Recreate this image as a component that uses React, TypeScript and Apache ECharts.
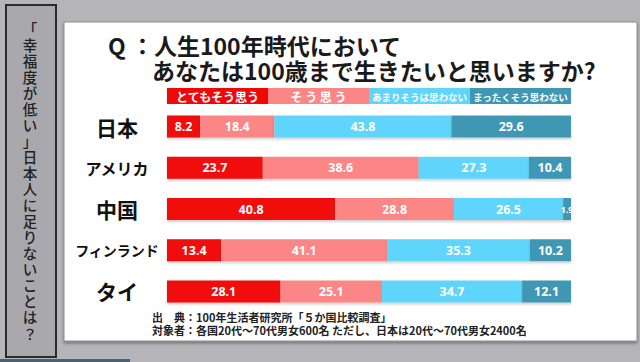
import React, { useEffect, useRef } from "react";
import * as echarts from "echarts";

const categories = ["日本", "アメリカ", "中国", "フィンランド", "タイ"];
const veryMuch = [8.2, 23.7, 40.8, 13.4, 28.1];
const somewhat = [18.4, 38.6, 28.8, 41.1, 25.1];
const notReally = [43.8, 27.3, 26.5, 35.3, 34.7];
const notAtAll = [29.6, 10.4, 1.9, 10.2, 12.1];
const legendNames = ["とてもそう思う", "そ う 思 う", "あまりそうは思わない", "まったくそう思わない"];
const seriesValues = [veryMuch, somewhat, notReally, notAtAll];
const colors = ["#f20707", "#fc8585", "#5fd5fb", "#3f97b4"];
const titleLine1 = "Q ：人生100年時代において";
const titleLine2 = "あなたは100歳まで生きたいと思いますか?";
const sideText = "「幸福度が低い」日本人に足りないことは？";
const source1 = "出　典：100年生活者研究所「５か国比較調査」";
const source2 = "対象者：各国20代～70代男女600名 ただし、日本は20代～70代男女2400名";

const FONT = "'Noto Sans CJK JP', 'Noto Sans', sans-serif";
const GRID_LEFT = 167;
const GRID_RIGHT = 69;

export default function App() {
  const ref = useRef<HTMLDivElement>(null);
  useEffect(() => {
    if (!ref.current) return;
    const chart = echarts.init(ref.current, null, { renderer: "svg" });
    const totals = categories.map((_, i) =>
      seriesValues.reduce((s, arr) => s + arr[i], 0)
    );
    const gridWidth = 640 - GRID_LEFT - GRID_RIGHT;
    const cell = gridWidth / legendNames.length;

    const legendGraphics: any[] = [];
    legendNames.forEach((name, i) => {
      legendGraphics.push({
        type: "rect",
        z: 5,
        shape: { x: GRID_LEFT + i * cell, y: 88, width: cell, height: 16 },
        style: { fill: colors[i] },
      });
      legendGraphics.push({
        type: "text",
        z: 6,
        x: GRID_LEFT + i * cell + cell / 2,
        y: 96.5,
        style: {
          text: name,
          fill: "#ffffff",
          font: `bold ${i < 2 ? 12 : 9.5}px ${FONT}`,
          textAlign: "center",
          textVerticalAlign: "middle",
        },
      });
    });

    const sideChars = sideText.split("");
    const sideStep = (333 - 28) / (sideChars.length - 1);
    const sideGraphics = sideChars.map((ch, i) => ({
      type: "text",
      z: 5,
      x: 30,
      y: 28 + i * sideStep,
      style: {
        text: ch,
        fill: "#222",
        font: `500 14.5px ${FONT}`,
        lineHeight: 14.5,
        textAlign: "center",
        textVerticalAlign: "middle",
      },
    }));

    const sizeKey = (s: string) =>
      s.length <= 2 ? "big" : s.length <= 4 ? "mid" : "small";

    const option: any = {
      animation: false,
      backgroundColor: "#b5b5b9",
      grid: { left: GRID_LEFT, right: GRID_RIGHT, top: 106, bottom: 50 },
      xAxis: { type: "value", min: 0, max: 100, show: false },
      yAxis: {
        type: "category",
        data: categories,
        inverse: true,
        axisLine: { show: false },
        axisTick: { show: false },
        splitLine: { show: false },
        axisLabel: {
          margin: 50,
          align: "center",
          color: "#111",
          formatter: (v: string) => `{${sizeKey(v)}|${v}}`,
          rich: {
            big: { fontSize: 21, fontWeight: "bold", fontFamily: FONT, color: "#111" },
            mid: { fontSize: 16, fontWeight: "bold", fontFamily: FONT, color: "#111" },
            small: { fontSize: 14, fontWeight: "bold", fontFamily: FONT, color: "#111" },
          },
        },
      },
      series: seriesValues.map((arr, si) => ({
        type: "bar",
        name: legendNames[si],
        stack: "total",
        barWidth: 22,
        z: 3,
        itemStyle: {
          color: colors[si],
          shadowColor: "rgba(0,0,0,0.18)",
          shadowOffsetY: 2,
          shadowBlur: 2,
        },
        label: {
          show: true,
          position: "inside",
          color: "#ffffff",
          fontWeight: "bold",
          fontFamily: "'Noto Sans', sans-serif",
          fontSize: 12.5,
          formatter: (p: any) => arr[p.dataIndex].toFixed(1),
        },
        data: arr.map((v, i) => {
          const item: any = { value: (v / totals[i]) * 100 };
          if (v < 5) item.label = { fontSize: 9 };
          return item;
        }),
      })),
      graphic: [
        {
          type: "rect",
          z: 0,
          shape: { x: 0, y: 359, width: 130, height: 3 },
          style: { fill: "#46637a" },
        },
        {
          type: "rect",
          z: 0,
          shape: { x: 64, y: 22, width: 573, height: 319 },
          style: {
            fill: "#ffffff",
            stroke: "#8a8a8e",
            lineWidth: 1,
            shadowColor: "rgba(0,0,0,0.35)",
            shadowOffsetY: 2,
            shadowBlur: 3,
          },
        },
        {
          type: "rect",
          z: 0,
          shape: { x: 6, y: 5, width: 50, height: 352 },
          style: { fill: "#a9a9ad", stroke: "#2b2b2b", lineWidth: 2 },
        },
        ...sideGraphics,
        {
          type: "text",
          z: 5,
          x: 108,
          y: 45,
          style: {
            text: titleLine1,
            fill: "#1a1a1a",
            font: `bold 23px ${FONT}`,
            textAlign: "left",
            textVerticalAlign: "middle",
          },
        },
        {
          type: "text",
          z: 5,
          x: 152,
          y: 70,
          style: {
            text: titleLine2,
            fill: "#1a1a1a",
            font: `bold 23px ${FONT}`,
            textAlign: "left",
            textVerticalAlign: "middle",
          },
        },
        {
          type: "text",
          z: 5,
          x: 152,
          y: 317,
          style: {
            text: source1,
            fill: "#222",
            font: `bold 11px ${FONT}`,
            textAlign: "left",
            textVerticalAlign: "middle",
          },
        },
        {
          type: "text",
          z: 5,
          x: 152,
          y: 329.5,
          style: {
            text: source2,
            fill: "#222",
            font: `bold 11px ${FONT}`,
            textAlign: "left",
            textVerticalAlign: "middle",
          },
        },
        ...legendGraphics,
      ],
    };
    chart.setOption(option);
    return () => chart.dispose();
  }, []);
  return (
    <div
      ref={ref}
      style={{ position: "fixed", left: 0, top: 0, width: 640, height: 362 }}
    />
  );
}
